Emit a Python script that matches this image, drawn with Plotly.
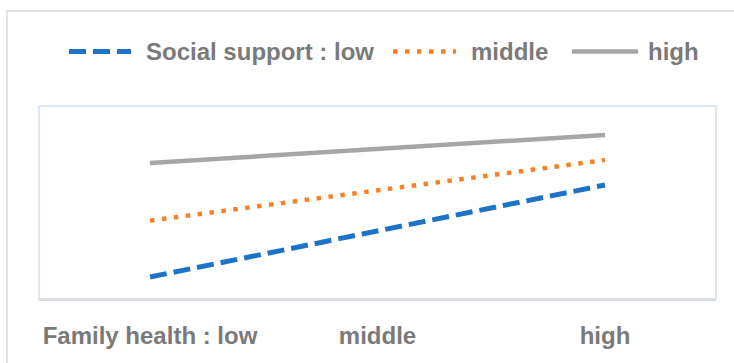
import plotly.graph_objects as go

# Interaction plot: outcome by family health, split by social support level
family_health = ["Family health : low", "middle", "high"]
support_levels = ["Social support : low", "middle", "high"]
support_low = [1.14, 3.52, 5.91]
support_middle = [4.06, 5.63, 7.20]
support_high = [7.05, 7.78, 8.50]

colors = ["#1c73c8", "#fa8026", "#a6a6a6"]
dashes = ["17px,7px", "4.5px,7.5px", "solid"]
widths = [5, 4.5, 4.5]
series = [support_low, support_middle, support_high]

W, H = 734, 363
M_L, M_R, M_T, M_B = 39, 18, 106, 64
PW, PH = W - M_L - M_R, H - M_T - M_B


def px_x(x):
    return (x - M_L) / PW


def px_y(y):
    return (H - M_B - y) / PH


fig = go.Figure()
for name, vals, c, d, w in zip(support_levels, series, colors, dashes, widths):
    fig.add_trace(go.Scatter(
        x=family_health, y=vals, name=name, mode="lines",
        line=dict(color=c, dash=d, width=w), showlegend=False,
    ))

font_family = "Liberation Sans, Arial, sans-serif"
text_color = "#7a7a7a"
font_size = 24

shapes = [
    # outer chart frame
    dict(type="rect", xref="paper", yref="paper",
         x0=px_x(7), x1=px_x(W + 20), y0=px_y(H + 20), y1=px_y(11),
         line=dict(color="#d9d9d9", width=1.5), layer="below"),
    # plot area frame
    dict(type="rect", xref="paper", yref="paper", x0=0, x1=1, y0=0, y1=1,
         line=dict(color="#dce6f4", width=2), layer="below"),
]

# legend row drawn along the top of the chart
legend_y = px_y(51.5)
sample_spans = [(69, 131), (393, 456), (572, 638)]
label_x = [144, 469, 646]
annotations = []
for name, c, d, w, (a, b), lx in zip(support_levels, colors, dashes, widths,
                                      sample_spans, label_x):
    shapes.append(dict(type="line", xref="paper", yref="paper",
                       x0=px_x(a), x1=px_x(b), y0=legend_y, y1=legend_y,
                       line=dict(color=c, dash=d, width=w)))
    annotations.append(dict(xref="paper", yref="paper", x=px_x(lx), y=legend_y,
                            text=f"<b>{name}</b>", showarrow=False,
                            xanchor="left", yanchor="middle",
                            font=dict(family=font_family, size=font_size,
                                      color=text_color)))

fig.update_layout(
    width=W, height=H,
    margin=dict(l=M_L, r=M_R, t=M_T, b=M_B),
    paper_bgcolor="white", plot_bgcolor="white",
    showlegend=False,
    shapes=shapes,
    annotations=annotations,
    xaxis=dict(
        type="category", range=[-0.488, 2.488], showgrid=False, zeroline=False,
        showline=True, linecolor="#d9d9d9", linewidth=2,
        ticks="outside", ticklen=14, tickcolor="rgba(0,0,0,0)",
        tickfont=dict(family=font_family, size=font_size, color=text_color),
        tickvals=family_health,
        ticktext=[f"<b>{t}</b>" for t in family_health],
    ),
    yaxis=dict(range=[0, 10], visible=False, showgrid=False, zeroline=False),
)

fig.write_html("out.html")
